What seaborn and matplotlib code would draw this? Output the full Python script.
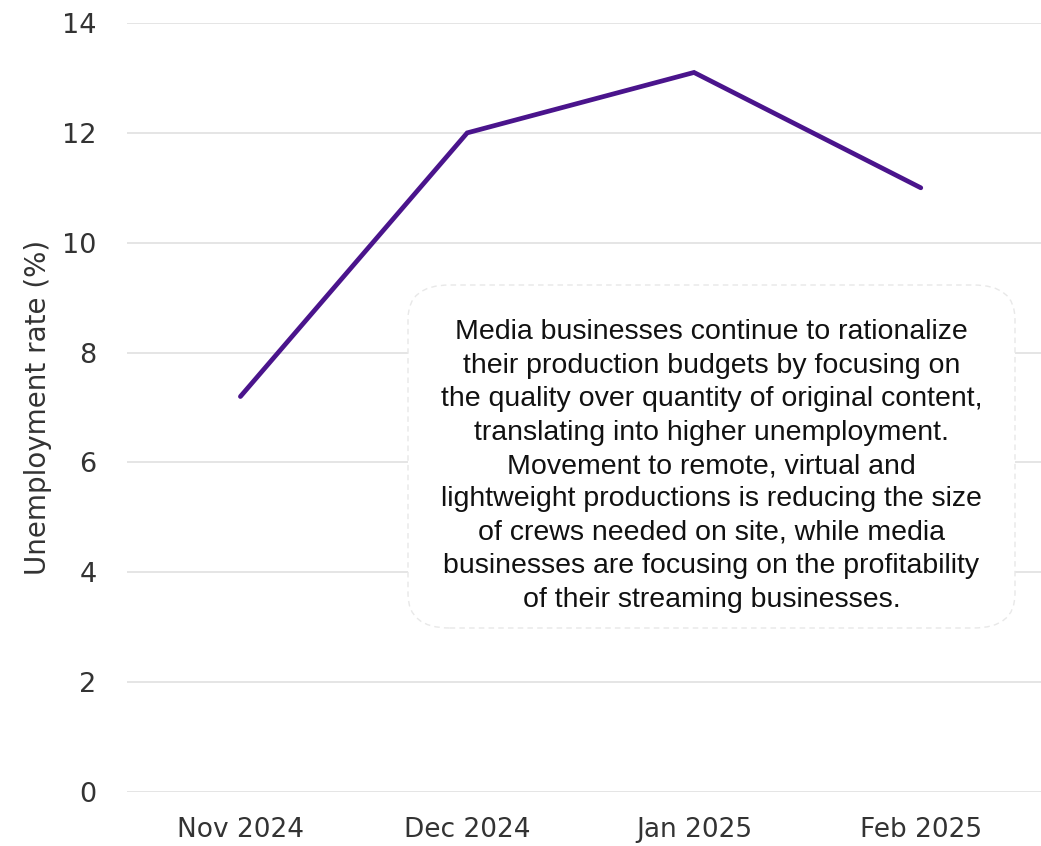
import matplotlib
matplotlib.use("Agg")
import matplotlib.pyplot as plt
import seaborn as sns
import pandas as pd
from matplotlib.patches import FancyBboxPatch

months = ["Nov 2024", "Dec 2024", "Jan 2025", "Feb 2025"]
unemployment_rate = [7.2, 12.0, 13.1, 11.0]
y_ticks = [0, 2, 4, 6, 8, 10, 12, 14]

note = ("Media businesses continue to rationalize\n"
        "their production budgets by focusing on\n"
        "the quality over quantity of original content,\n"
        "translating into higher unemployment.\n"
        "Movement to remote, virtual and\n"
        "lightweight productions is reducing the size\n"
        "of crews needed on site, while media\n"
        "businesses are focusing on the profitability\n"
        "of their streaming businesses.")

sns.set_theme(style="white")
plt.rcParams['font.family'] = ['DejaVu Sans']

df = pd.DataFrame({"month": months, "rate": unemployment_rate})

fig = plt.figure(figsize=(10.41, 8.46), dpi=100)
ax = fig.add_axes([0.122, 0.0638, 0.878, 0.909])

sns.lineplot(data=df, x="month", y="rate", sort=False, ax=ax,
             color="#4a148c", linewidth=3.4, solid_capstyle="round",
             solid_joinstyle="miter")

ax.set_ylim(0, 14)
ax.set_xlim(-0.5, 3.53)
ax.set_yticks(y_ticks)
ax.yaxis.grid(True, color="#e3e3e3", linewidth=1.3)
ax.xaxis.grid(False)
ax.set_axisbelow(True)
for s in ax.spines.values():
    s.set_visible(False)
ax.tick_params(axis="y", length=0, pad=22, labelsize=19.5, labelcolor="#333333")
ax.tick_params(axis="x", length=0, pad=18, labelsize=19, labelcolor="#333333")
ax.set_xlabel("")
ax.set_ylabel("Unemployment rate (%)", fontsize=20, color="#333333", labelpad=7)

# Commentary box
box = FancyBboxPatch((408 / 1041, (846 - 628) / 846), (1015 - 408) / 1041, (628 - 285) / 846,
                     boxstyle="round,pad=0,rounding_size=0.04",
                     transform=fig.transFigure, facecolor="white",
                     edgecolor="#e8e8e8", linewidth=1.0, linestyle=(0, (4, 3)),
                     zorder=5)
fig.patches.append(box)
fig.text((408 + 1015) / 2 / 1041, (846 - 466) / 846, note, ha="center", va="center",
         fontsize=20.5, family="Liberation Sans", color="#111111",
         linespacing=1.37, zorder=6)

fig.savefig("out.png", dpi=100)
